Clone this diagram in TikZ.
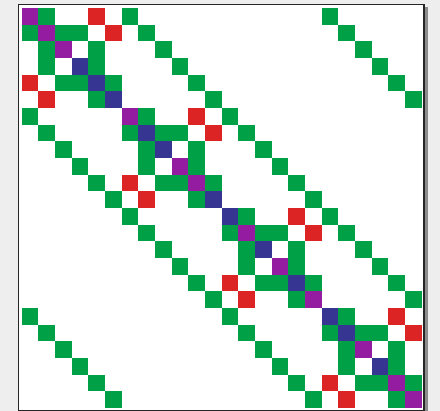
\documentclass[tikz,border=0pt]{standalone}
\usepackage{tikz}
\definecolor{mgreen}{RGB}{0,161,70}
\definecolor{mred}{RGB}{220,36,36}
\definecolor{mpurple}{RGB}{148,28,160}
\definecolor{mblue}{RGB}{54,54,146}
\definecolor{bggray}{RGB}{238,238,238}
\definecolor{shadowgray}{RGB}{140,140,140}
\begin{document}
\begin{tikzpicture}[x=1pt,y=-1pt,
  cellfill/.style={fill=#1}]
\useasboundingbox (0,0) rectangle (440,411);
% page background and frame with its drop shadow
\fill[bggray] (0,0) rectangle (440,411);
\fill[shadowgray] (21,7) rectangle (428,414);
\filldraw[fill=white,draw=black!85,line width=1.5pt] (18.5,4.5) rectangle (424,410.5);
% one matrix entry: \entry{colour}{row}{column}
\def\xo{21.7}\def\yo{8}\def\cs{16.667}
\newcommand\entry[3]{\fill[#1] ({\xo+#3*\cs},{\yo+#2*\cs}) rectangle ++(\cs,\cs);}
% 4 sites of 6x6 blocks on a ring
\foreach \b in {0,...,3}{
  \pgfmathtruncatemacro{\o}{6*\b}
  \pgfmathtruncatemacro{\nx}{6*mod(\b+1,4)}
  \pgfmathtruncatemacro{\pv}{6*mod(\b+3,4)}
  % couplings to neighbouring sites
  \foreach \i in {0,...,5}{
    \pgfmathtruncatemacro{\r}{\o+\i}
    \pgfmathtruncatemacro{\ca}{\nx+\i}
    \pgfmathtruncatemacro{\cb}{\pv+\i}
    \entry{mgreen}{\r}{\ca}
    \entry{mgreen}{\r}{\cb}
  }
  % on-site couplings
  \foreach \i/\j in {0/1,1/0,1/2,1/3,2/1,2/4,3/1,3/4,4/2,4/3,4/5,5/4}{
    \pgfmathtruncatemacro{\r}{\o+\i}
    \pgfmathtruncatemacro{\c}{\o+\j}
    \entry{mgreen}{\r}{\c}
  }
  \foreach \i/\j in {0/4,4/0,1/5,5/1}{
    \pgfmathtruncatemacro{\r}{\o+\i}
    \pgfmathtruncatemacro{\c}{\o+\j}
    \entry{mred}{\r}{\c}
  }
}
% diagonal entries
\foreach \k/\c in {0/mpurple,1/mpurple,2/mpurple,3/mblue,4/mblue,5/mblue,
  6/mpurple,7/mblue,8/mblue,9/mpurple,10/mpurple,11/mblue,
  12/mblue,13/mpurple,14/mblue,15/mpurple,16/mblue,17/mpurple,
  18/mblue,19/mblue,20/mpurple,21/mblue,22/mpurple,23/mpurple}{
  \entry{\c}{\k}{\k}
}
\end{tikzpicture}
\end{document}
